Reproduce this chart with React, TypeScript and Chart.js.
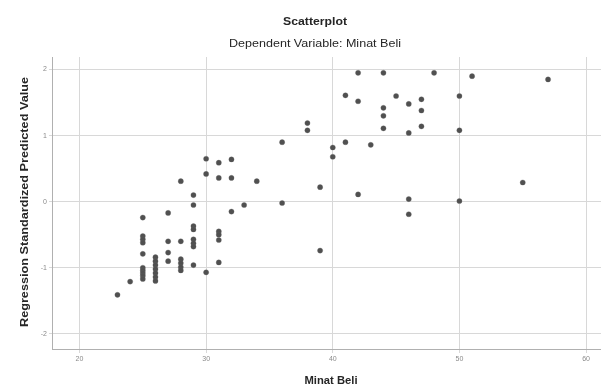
import React, { useEffect, useRef } from "react";
import { Chart, registerables } from "chart.js";

Chart.register(...registerables);

const minatBeli = [
  23, 24,
  25, 25, 25, 25, 25, 25, 25, 25, 25, 25,
  26, 26, 26, 26, 26, 26, 26,
  27, 27, 27, 27,
  28, 28, 28, 28, 28, 28,
  29, 29, 29, 29, 29, 29, 29, 29,
  30, 30, 30,
  31, 31, 31, 31, 31, 31,
  32, 32, 32,
  33, 34, 36, 36, 38, 38, 39, 39, 40, 40, 41, 41,
  42, 42, 42, 43,
  44, 44, 44, 44, 45,
  46, 46, 46, 46,
  47, 47, 47, 48,
  50, 50, 50, 51, 55, 57,
];

const predictedValue = [
  -1.41, -1.21,
  -0.24, -0.52, -0.57, -0.62, -0.79, -1.0, -1.04, -1.08, -1.12, -1.17,
  -0.84, -0.9, -0.96, -1.02, -1.08, -1.14, -1.2,
  -0.17, -0.6, -0.77, -0.9,
  0.31, -0.6, -0.87, -0.93, -0.99, -1.04,
  0.1, -0.05, -0.37, -0.42, -0.57, -0.63, -0.68, -0.96,
  0.65, 0.42, -1.07,
  0.59, 0.36, -0.45, -0.5, -0.58, -0.92,
  0.64, 0.36, -0.15,
  -0.05, 0.31, 0.9, -0.02, 1.19, 1.08, 0.22, -0.74, 0.82, 0.68, 1.61, 0.9,
  1.95, 1.52, 0.11, 0.86,
  1.95, 1.42, 1.3, 1.11, 1.6,
  1.48, 1.04, 0.04, -0.19,
  1.55, 1.38, 1.14, 1.95,
  1.6, 1.08, 0.01, 1.9, 0.29, 1.85,
];

const xTickValues = [20, 30, 40, 50, 60];
const yTickValues = [-2, -1, 0, 1, 2];

const chartTitle = "Scatterplot";
const chartSubtitle = "Dependent Variable: Minat Beli";
const xAxisTitle = "Minat Beli";
const yAxisTitle = "Regression Standardized Predicted Value";

const FONT = "'Liberation Sans', Arial, sans-serif";

function fitText(ctx: CanvasRenderingContext2D, text: string, x: number, y: number, width: number, rotate = false) {
  ctx.save();
  ctx.translate(x, y);
  if (rotate) ctx.rotate(-Math.PI / 2);
  const w = ctx.measureText(text).width;
  ctx.scale(width / w, 1);
  ctx.fillText(text, 0, 0);
  ctx.restore();
}

const textPlugin = {
  id: "spssText",
  afterDraw(chart: any) {
    const ctx = chart.ctx as CanvasRenderingContext2D;
    ctx.save();
    ctx.fillStyle = "#262626";
    ctx.textAlign = "center";
    ctx.textBaseline = "middle";
    ctx.font = `bold 10.5px ${FONT}`;
    fitText(ctx, chartTitle, 315, 22, 64);
    ctx.font = `10.5px ${FONT}`;
    fitText(ctx, chartSubtitle, 315, 44, 172);
    ctx.font = `bold 10.5px ${FONT}`;
    fitText(ctx, xAxisTitle, 331, 381, 53);
    ctx.font = `bold 11px ${FONT}`;
    fitText(ctx, yAxisTitle, 25, 202, 250, true);
    ctx.restore();
  },
};

export default function App() {
  const ref = useRef<HTMLCanvasElement | null>(null);

  useEffect(() => {
    if (!ref.current) return;
    const data = minatBeli.map((x, i) => ({ x, y: predictedValue[i] }));
    const chart = new Chart(ref.current, {
      type: "scatter",
      data: {
        datasets: [
          {
            data,
            backgroundColor: "#505050",
            borderColor: "rgba(100,100,100,0.3)",
            borderWidth: 1,
            pointRadius: 2.6,
          },
        ],
      },
      options: {
        animation: false,
        responsive: false,
        devicePixelRatio: 1,
        layout: { autoPadding: false, padding: { top: 57, left: 0, right: 0, bottom: 0 } },
        plugins: {
          legend: { display: false },
          title: { display: false },
          tooltip: { enabled: false },
        },
        scales: {
          x: {
            type: "linear",
            min: 17.83,
            max: 61.18,
            afterBuildTicks: (s: any) => {
              s.ticks = xTickValues.map((v) => ({ value: v }));
            },
            afterFit: (s: any) => {
              s.height = 38;
              s.paddingLeft = 0;
              s.paddingRight = 0;
            },
            grid: { color: "#d8d8d8", lineWidth: 1, tickLength: 4 },
            border: { display: true, color: "#b0b0b0", width: 1 },
            ticks: {
              color: "#8a8a8a",
              font: { size: 7, family: FONT },
              padding: 2,
              maxRotation: 0,
            },
          },
          y: {
            type: "linear",
            min: -2.23,
            max: 2.19,
            afterBuildTicks: (s: any) => {
              s.ticks = yTickValues.map((v) => ({ value: v }));
            },
            afterFit: (s: any) => {
              s.width = 52;
              s.paddingTop = 0;
              s.paddingBottom = 0;
            },
            grid: { color: "#d8d8d8", lineWidth: 1, tickLength: 3 },
            border: { display: true, color: "#b0b0b0", width: 1 },
            ticks: {
              color: "#8a8a8a",
              font: { size: 7, family: FONT },
              padding: 2,
            },
          },
        },
      },
      plugins: [textPlugin],
    });
    return () => chart.destroy();
  }, []);

  return (
    <div style={{ position: "absolute", left: 0, top: 0, width: 601, height: 387, background: "#fff" }}>
      <canvas ref={ref} width={601} height={387} style={{ width: 601, height: 387, display: "block" }} />
    </div>
  );
}
